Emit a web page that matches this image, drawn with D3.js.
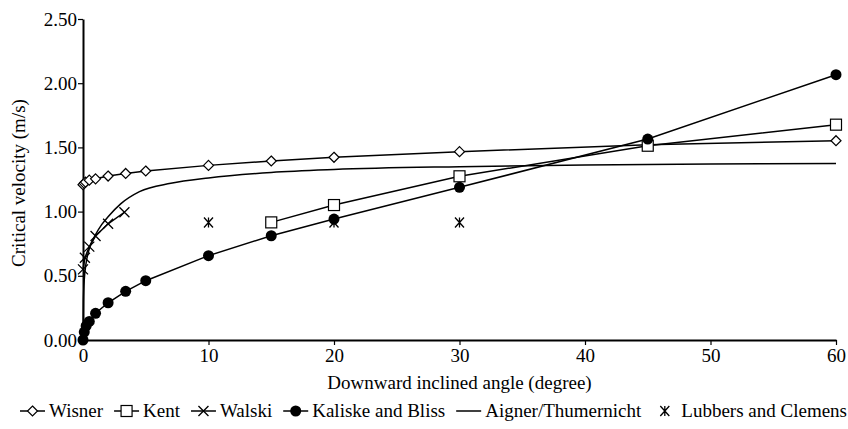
<!DOCTYPE html>
<html>
<head>
<meta charset="utf-8">
<script src="https://cdn.jsdelivr.net/npm/d3@7"></script>
<style>
  body { margin: 0; background: #fff; }
</style>
</head>
<body>
<svg id="chart" width="848" height="429"></svg>
<script>
// angles (degree) and critical velocity (m/s)
const wisnerX = [0, 0.1, 0.2, 0.5, 1, 2, 3.4, 5, 10, 15, 20, 30, 45, 60];
const wisnerY = [1.21, 1.22, 1.23, 1.245, 1.255, 1.277, 1.297, 1.316, 1.36, 1.394, 1.423, 1.467, 1.52, 1.552];

const kentX = [15, 20, 30, 45, 60];
const kentY = [0.916, 1.051, 1.275, 1.513, 1.677];

const walskiX = [0, 0.15, 0.5, 1, 2, 3.3];
const walskiY = [0.55, 0.64, 0.727, 0.81, 0.905, 0.995];

const kaliskeX = [0, 0.1, 0.25, 0.5, 1, 2, 3.4, 5, 10, 15, 20, 30, 45, 60];
const kaliskeY = [0, 0.062, 0.11, 0.145, 0.208, 0.29, 0.379, 0.462, 0.657, 0.812, 0.942, 1.189, 1.565, 2.066];

const aignerX = [0, 0.03, 0.1, 0.25, 0.5, 1, 1.5, 2, 3, 4.5, 7, 10, 15, 20, 30, 40, 50, 60];
const aignerY = [0, 0.3, 0.47, 0.6, 0.71, 0.82, 0.9, 0.96, 1.06, 1.155, 1.22, 1.262, 1.305, 1.328, 1.35, 1.363, 1.37, 1.375];

const lubbersX = [10, 20, 30];
const lubbersY = [0.915, 0.915, 0.915];

const xTicks = [0, 10, 20, 30, 40, 50, 60];
const yTicks = [0, 0.5, 1, 1.5, 2, 2.5];

const FONT = "Liberation Serif";

const zip = (xs, ys) => xs.map((x, i) => ({ x, y: ys[i] }));

const series = [
  { name: "Wisner", symbol: "diamond", line: true, data: zip(wisnerX, wisnerY) },
  { name: "Kent", symbol: "square", line: true, data: zip(kentX, kentY) },
  { name: "Walski", symbol: "cross", line: true, data: zip(walskiX, walskiY) },
  { name: "Kaliske and Bliss", symbol: "circle", line: true, data: zip(kaliskeX, kaliskeY) },
  { name: "Aigner/Thumernicht", symbol: null, line: true, curve: true, data: zip(aignerX, aignerY) },
  { name: "Lubbers and Clemens", symbol: "star", line: false, data: zip(lubbersX, lubbersY) }
];

const svg = d3.select("#chart");
const margin = { top: 19, right: 12, bottom: 89, left: 83 };
const width = 848, height = 429;

const x = d3.scaleLinear().domain([0, 60]).range([margin.left, width - margin.right]);
const y = d3.scaleLinear().domain([0, 2.5]).range([height - margin.bottom, margin.top]);

function serif(sel) {
  return sel.attr("font-family", FONT).style("font-family", FONT)
    .attr("font-size", 19).style("font-size", "19px").attr("fill", "#000");
}

// axes
const xAxis = svg.append("g")
  .attr("transform", `translate(0,${height - margin.bottom})`)
  .call(d3.axisBottom(x).tickValues(xTicks).tickSize(5).tickSizeOuter(0).tickPadding(4));
const yAxis = svg.append("g")
  .attr("transform", `translate(${margin.left},0)`)
  .call(d3.axisLeft(y).tickValues(yTicks).tickFormat(d3.format(".2f")).tickSize(5).tickSizeOuter(0).tickPadding(1));

[xAxis, yAxis].forEach(g => {
  g.attr("font-family", FONT).attr("font-size", 19);
  g.select(".domain").attr("stroke", "#000").attr("stroke-width", 2);
  g.selectAll(".tick line").attr("stroke", "#000").attr("stroke-width", 1.2);
  serif(g.selectAll("text"));
});

serif(svg.append("text"))
  .attr("x", (x(0) + x(60)) / 2)
  .attr("y", 389)
  .attr("text-anchor", "middle")
  .text("Downward inclined angle (degree)");

serif(svg.append("text"))
  .attr("transform", "rotate(-90)")
  .attr("x", -183)
  .attr("y", 25)
  .attr("text-anchor", "middle")
  .text("Critical velocity (m/s)");

// markers
function drawSymbol(g, type, cx, cy) {
  if (type === "diamond") {
    g.append("path")
      .attr("d", `M${cx},${cy - 5}L${cx + 5},${cy}L${cx},${cy + 5}L${cx - 5},${cy}Z`)
      .attr("fill", "#fff").attr("stroke", "#000").attr("stroke-width", 1.2);
  } else if (type === "square") {
    g.append("rect")
      .attr("x", cx - 5.5).attr("y", cy - 5.5).attr("width", 11).attr("height", 11)
      .attr("fill", "#fff").attr("stroke", "#000").attr("stroke-width", 1.2);
  } else if (type === "circle") {
    g.append("circle").attr("cx", cx).attr("cy", cy).attr("r", 5.5).attr("fill", "#000");
  } else if (type === "cross") {
    g.append("path")
      .attr("d", `M${cx - 5},${cy - 5}L${cx + 5},${cy + 5}M${cx - 5},${cy + 5}L${cx + 5},${cy - 5}`)
      .attr("stroke", "#000").attr("stroke-width", 1.3);
  } else if (type === "star") {
    g.append("path")
      .attr("d", `M${cx - 4.5},${cy - 5}L${cx + 4.5},${cy + 5}M${cx - 4.5},${cy + 5}L${cx + 4.5},${cy - 5}M${cx},${cy - 5}L${cx},${cy + 5}`)
      .attr("stroke", "#000").attr("stroke-width", 1.3);
  }
}

const plot = svg.append("g");
series.forEach(s => {
  if (s.line) {
    const line = d3.line().x(d => x(d.x)).y(d => y(d.y))
      .curve(s.curve ? d3.curveMonotoneX : d3.curveLinear);
    plot.append("path").datum(s.data)
      .attr("d", line)
      .attr("fill", "none")
      .attr("stroke", "#000")
      .attr("stroke-width", 1.5);
  }
});
series.forEach(s => {
  if (!s.symbol) return;
  const g = plot.append("g");
  s.data.forEach(d => drawSymbol(g, s.symbol, x(d.x), y(d.y)));
});

// legend: measure items, then spread them between x=20 and x=847
const legend = svg.append("g").attr("transform", "translate(0,411)");
const keyW = 25, keyGap = 4;
const items = series.map(s => {
  const item = legend.append("g");
  const t = serif(item.append("text")).attr("y", 6).text(s.name);
  return { s, item, t, w: keyW + keyGap + t.node().getComputedTextLength() };
});
const total = d3.sum(items, d => d.w);
const gap = (847 - 20 - total) / (items.length - 1);
let lx = 20;
items.forEach(({ s, item, t, w }) => {
  if (s.line) {
    item.append("line").attr("x1", lx).attr("x2", lx + keyW).attr("y1", 0).attr("y2", 0)
      .attr("stroke", "#000").attr("stroke-width", 1.5);
  }
  if (s.symbol) drawSymbol(item, s.symbol, lx + keyW / 2, 0);
  t.attr("x", lx + keyW + keyGap);
  lx += w + gap;
});
</script>
</body>
</html>
